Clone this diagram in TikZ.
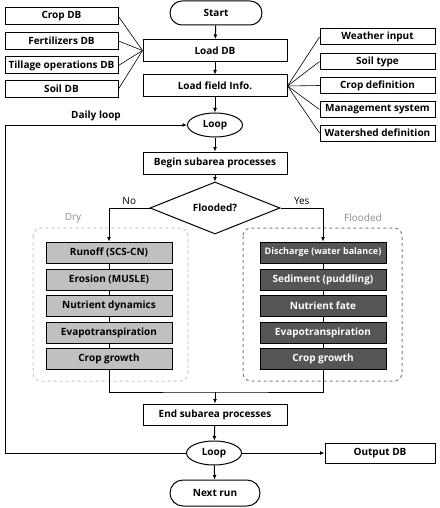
\documentclass[tikz,border=0pt]{standalone}
\usepackage{fontspec}
\setmainfont{Open Sans}
\usetikzlibrary{arrows.meta,shapes.geometric,shapes.misc}
\definecolor{DryClr}{RGB}{192,192,192}
\definecolor{WetClr}{RGB}{85,85,85}
\definecolor{DryLine}{RGB}{200,200,200}
\definecolor{WetLine}{RGB}{128,128,128}
\definecolor{TagClr}{RGB}{140,140,140}

\tikzset{
  basic/.style={draw,line width=1pt,inner sep=0pt,font=\fontsize{10}{12}\selectfont\bfseries},
  box/.style={basic,rectangle,minimum width=144pt,minimum height=22pt},
  inbox/.style={basic,rectangle,minimum width=113pt,minimum height=17pt},
  outbox/.style={basic,rectangle,minimum width=115pt,minimum height=16pt},
  term/.style={basic,rounded rectangle,minimum width=92pt,minimum height=24pt},
  loopnode/.style={basic,ellipse,minimum width=55pt,minimum height=24pt},
  decide/.style={basic,diamond,minimum width=130pt,minimum height=40pt},
  drybox/.style={basic,rectangle,fill=DryClr,minimum width=126pt,minimum height=21pt},
  wetbox/.style={basic,rectangle,fill=WetClr,text=white,minimum width=126pt,minimum height=21pt},
  tag/.style={font=\fontsize{10}{12}\selectfont,text=TagClr},
  arr/.style={line width=1pt,-{Latex[length=4.5pt,width=4pt]}},
  link/.style={line width=0.6pt}
}

\begin{document}
\begin{tikzpicture}[x=1pt,y=-1pt]
\useasboundingbox (0,0) rectangle (439,508);

% main column
\node[term] (start) at (216,13) {Start};
\node[box] (loaddb) at (215,50.5) {Load DB};
\node[box] (loadfield) at (215,86) {Load field Info.};
\node[loopnode] (loopA) at (215,125) {Loop};
\node[box] (begin) at (215,163) {Begin subarea processes};
\node[decide] (flood) at (215,208) {Flooded?};
\node[box,minimum height=21pt] (endsub) at (215,414.5) {End subarea processes};
\node[loopnode] (loopB) at (214,453) {Loop};
\node[outbox,minimum width=110pt,minimum height=20pt] (output) at (380,453) {Output DB};
\node[term,minimum width=90pt,minimum height=26pt] (nextrun) at (215,493) {Next run};

% input databases
\node[inbox] (cropdb) at (61.5,16.5) {Crop DB};
\node[inbox] (fertdb) at (61.5,41) {Fertilizers DB};
\node[inbox] (tilldb) at (61.5,65.5) {Tillage operations DB};
\node[inbox] (soildb) at (61.5,89) {Soil DB};

% field information
\node[outbox] (weather) at (377.5,37) {Weather input};
\node[outbox] (soiltype) at (377.5,61.5) {Soil type};
\node[outbox] (cropdef) at (377.5,85.5) {Crop definition};
\node[outbox] (mgmt) at (377.5,109.5) {Management system};
\node[outbox] (wshed) at (377.5,133) {Watershed definition};

\foreach \n in {cropdb,fertdb,tilldb,soildb}
  \draw[link] (\n.east) -- (loaddb.west);
\foreach \n in {weather,soiltype,cropdef,mgmt,wshed}
  \draw[link] (\n.west) -- (loadfield.east);

% dry and flooded branches
\draw[DryLine,line width=1pt,dashed,rounded corners=8pt] (33,228) rectangle (188,381);
\draw[WetLine,line width=1pt,dashed,rounded corners=8pt] (243,228) rectangle (402,381);
\node[tag] (drytag) at (73,218) {Dry};
\node[tag] (wettag) at (363,218) {Flooded};

\node[drybox] (d1) at (109,252.5) {Runoff (SCS-CN)};
\node[drybox] (d2) at (109,279.5) {Erosion (MUSLE)};
\node[drybox] (d3) at (109,306) {Nutrient dynamics};
\node[drybox] (d4) at (109,332.5) {Evapotranspiration};
\node[drybox] (d5) at (109,358.5) {Crop growth};

\node[wetbox] (f1) at (323,252.5) {\fontsize{9}{10}\selectfont Discharge (water balance)};
\node[wetbox] (f2) at (323,279.5) {Sediment (puddling)};
\node[wetbox] (f3) at (323,306) {Nutrient fate};
\node[wetbox] (f4) at (323,332.5) {Evapotranspiration};
\node[wetbox] (f5) at (323,358.5) {Crop growth};

\foreach \a/\b in {d1/d2,d2/d3,d3/d4,d4/d5,f1/f2,f2/f3,f3/f4,f4/f5}
  \draw[line width=1pt] (\a) -- (\b);

% flow
\draw[arr] (start) -- (loaddb);
\draw[arr] (loaddb) -- (loadfield);
\draw[arr] (loadfield) -- (loopA);
\draw[arr] (loopA) -- (begin);
\draw[arr] (begin) -- (flood);
\draw[arr] (flood.west) -| node[pos=0.25,above,font=\fontsize{10}{12}\selectfont] {No} (d1.north);
\draw[arr] (flood.east) -| node[pos=0.25,above,font=\fontsize{10}{12}\selectfont] {Yes} (f1.north);

\coordinate (join) at (215,392);
\draw[line width=1pt] (d5.south) |- (join) -| (f5.south);
\draw[arr] (join) -- (endsub);
\draw[arr] (endsub) -- (loopB);
\draw[arr] (loopB) -- (nextrun);
\draw[arr] (loopB) -- (output);

\coordinate (back) at (5,453);
\draw[arr] (loopB.west) -- (back) |- node[pos=0.75,above,font=\fontsize{10}{12}\selectfont\bfseries] {Daily loop} (loopA.west);

\end{tikzpicture}
\end{document}
